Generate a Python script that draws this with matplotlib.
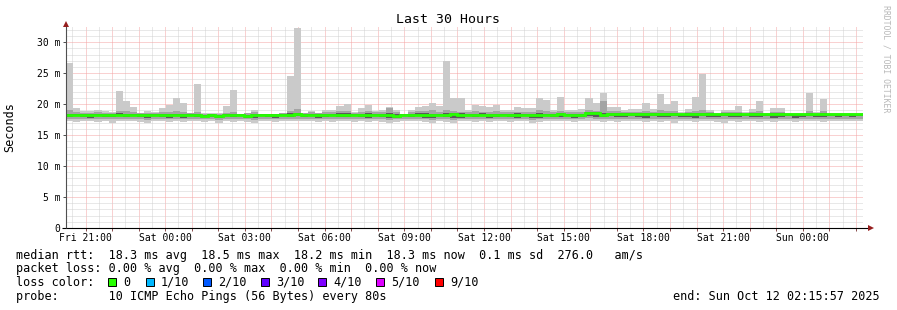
import numpy as np
import pandas as pd
import matplotlib
matplotlib.use('Agg')
import matplotlib.pyplot as plt
import matplotlib.dates as mdates
from matplotlib.ticker import MultipleLocator, FuncFormatter
from matplotlib.patches import Rectangle

plt.rcParams['font.family'] = ['DejaVu Sans Mono', 'DejaVu Sans']

W, H = 897, 310

# ==========================================
# data (16 min bins, 10 pings per bin)
# ==========================================
END_TIME = pd.Timestamp('2025-10-12 02:15:57')
START_TIME = END_TIME - pd.Timedelta(hours=30)

RTT_MAX = [
    26.7, 19.3, 18.9, 18.9, 19.0, 18.9, 18.8, 22.1,
    20.5, 19.5, 18.6, 18.9, 18.7, 19.3, 19.8, 20.9,
    20.2, 18.6, 23.2, 18.5, 18.5, 18.5, 19.7, 22.3,
    18.45, 18.6, 19.0, 18.4, 18.4, 18.4, 18.5, 24.6,
    32.3, 18.6, 18.9, 18.6, 19.0, 19.0, 19.7, 20.0,
    18.8, 19.3, 19.8, 18.9, 19.0, 19.5, 19.0, 18.4,
    19.0, 19.5, 19.7, 20.1, 19.7, 27.0, 20.9, 20.9,
    19.0, 19.9, 19.7, 19.5, 19.8, 19.1, 19.0, 19.5,
    19.3, 19.3, 20.9, 20.6, 19.0, 21.1, 19.0, 19.0,
    19.2, 20.9, 20.2, 21.8, 19.5, 19.5, 19.0, 19.2,
    19.2, 20.2, 19.2, 21.6, 20.0, 20.5, 18.8, 19.2,
    21.1, 24.9, 19.0, 18.5, 19.0, 19.0, 19.7, 18.8,
    19.2, 20.5, 18.5, 19.4, 19.4, 18.5, 18.5, 18.5,
    21.8, 18.8, 20.8, 18.5, 18.5, 18.5, 18.5, 18.5,
]
RTT_P90 = [
    19.0, 18.8, 18.6, 18.6, 18.7, 18.6, 18.6, 18.9,
    18.9, 18.8, 18.5, 18.6, 18.5, 18.7, 18.8, 18.9,
    18.8, 18.5, 18.7, 18.4, 18.4, 18.4, 18.6, 18.8,
    18.4, 18.5, 18.7, 18.4, 18.4, 18.4, 18.5, 18.9,
    19.2, 18.5, 18.7, 18.5, 18.7, 18.7, 18.9, 18.9,
    18.6, 18.8, 18.9, 18.7, 18.7, 19.3, 18.7, 18.4,
    18.7, 18.9, 18.9, 19.0, 18.8, 19.1, 18.9, 18.8,
    18.7, 18.9, 18.8, 18.8, 18.9, 18.8, 18.7, 18.8,
    18.8, 18.8, 19.0, 18.9, 18.7, 18.9, 18.7, 18.7,
    18.8, 19.0, 18.9, 20.5, 18.9, 18.9, 18.7, 18.8,
    18.8, 18.9, 18.8, 19.0, 18.9, 18.9, 18.6, 18.8,
    18.9, 19.0, 18.7, 18.5, 18.7, 18.7, 18.8, 18.6,
    18.8, 18.9, 18.5, 18.8, 18.8, 18.5, 18.5, 18.5,
    18.9, 18.6, 18.9, 18.5, 18.5, 18.5, 18.5, 18.5,
]
RTT_P70 = [
    18.45, 18.45, 18.4, 18.45, 18.45, 18.4, 18.45, 18.5,
    18.45, 18.45, 18.35, 18.4, 18.35, 18.4, 18.4, 18.45,
    18.4, 18.35, 18.4, 18.3, 18.35, 18.3, 18.4, 18.4,
    18.35, 18.3, 18.4, 18.35, 18.35, 18.35, 18.4, 18.5,
    18.55, 18.45, 18.45, 18.4, 18.45, 18.45, 18.5, 18.5,
    18.4, 18.45, 18.5, 18.45, 18.4, 18.6, 18.35, 18.35,
    18.45, 18.5, 18.5, 18.45, 18.45, 18.5, 18.55, 18.5,
    18.45, 18.45, 18.5, 18.45, 18.45, 18.45, 18.45, 18.5,
    18.45, 18.45, 18.5, 18.45, 18.45, 18.55, 18.45, 18.45,
    18.45, 18.7, 18.65, 18.6, 18.5, 18.5, 18.5, 18.5,
    18.5, 18.55, 18.5, 18.55, 18.5, 18.55, 18.45, 18.5,
    18.55, 18.55, 18.5, 18.45, 18.5, 18.5, 18.55, 18.45,
    18.5, 18.55, 18.45, 18.5, 18.5, 18.45, 18.45, 18.45,
    18.55, 18.45, 18.55, 18.45, 18.45, 18.45, 18.45, 18.45,
]
RTT_MEDIAN = [
    18.3, 18.3, 18.3, 18.3, 18.3, 18.3, 18.3, 18.3,
    18.3, 18.3, 18.2, 18.2, 18.2, 18.2, 18.2, 18.2,
    18.2, 18.2, 18.2, 18.15, 18.2, 18.15, 18.2, 18.2,
    18.2, 18.15, 18.2, 18.2, 18.2, 18.2, 18.2, 18.3,
    18.35, 18.3, 18.3, 18.25, 18.3, 18.3, 18.3, 18.3,
    18.25, 18.3, 18.3, 18.3, 18.25, 18.3, 18.15, 18.25,
    18.3, 18.3, 18.3, 18.25, 18.3, 18.3, 18.35, 18.3,
    18.3, 18.25, 18.3, 18.3, 18.25, 18.3, 18.3, 18.3,
    18.25, 18.3, 18.3, 18.25, 18.3, 18.35, 18.3, 18.3,
    18.3, 18.5, 18.5, 18.25, 18.35, 18.35, 18.35, 18.35,
    18.35, 18.35, 18.35, 18.35, 18.35, 18.35, 18.35, 18.35,
    18.35, 18.35, 18.35, 18.35, 18.35, 18.35, 18.35, 18.35,
    18.35, 18.35, 18.35, 18.35, 18.35, 18.35, 18.35, 18.35,
    18.35, 18.35, 18.35, 18.35, 18.35, 18.35, 18.35, 18.35,
]
RTT_P30 = [
    17.9, 18.05, 17.9, 17.8, 18.05, 17.95, 17.9, 18.05,
    17.9, 18.05, 17.85, 17.8, 18.05, 17.9, 17.8, 18.05,
    17.8, 18.05, 17.85, 18.05, 17.9, 17.8, 18.05, 17.85,
    18.05, 17.8, 17.75, 18.05, 17.9, 17.8, 18.05, 17.9,
    18.05, 17.85, 18.05, 17.8, 17.9, 18.05, 17.9, 17.9,
    18.05, 17.9, 17.8, 18.05, 17.85, 17.75, 17.8, 18.05,
    17.85, 18.05, 17.8, 17.75, 18.05, 17.85, 17.75, 17.8,
    18.05, 17.85, 18.05, 17.8, 17.85, 18.05, 17.85, 17.8,
    18.05, 17.75, 17.8, 18.05, 17.9, 17.85, 18.05, 17.8,
    17.85, 18.05, 17.95, 17.85, 18.05, 17.85, 17.9, 18.05,
    17.9, 17.8, 18.05, 17.85, 17.9, 18.05, 17.95, 17.85,
    17.8, 18.05, 17.95, 17.85, 18.05, 17.9, 17.85, 18.05,
    17.9, 17.85, 18.05, 17.8, 17.9, 18.05, 17.8, 17.95,
    18.05, 17.95, 17.85, 18.05, 17.95, 18.05, 17.95, 18.05,
]
RTT_P10 = [
    17.6, 17.55, 17.65, 17.55, 17.6, 17.65, 17.55, 17.6,
    17.65, 17.6, 17.55, 17.5, 17.6, 17.65, 17.55, 17.6,
    17.55, 17.65, 17.6, 17.55, 17.6, 17.5, 17.65, 17.55,
    17.6, 17.55, 17.45, 17.55, 17.65, 17.55, 17.6, 17.65,
    17.65, 17.55, 17.65, 17.55, 17.6, 17.55, 17.65, 17.6,
    17.55, 17.65, 17.55, 17.6, 17.55, 17.5, 17.55, 17.65,
    17.6, 17.65, 17.55, 17.5, 17.6, 17.55, 17.5, 17.55,
    17.65, 17.55, 17.6, 17.55, 17.6, 17.65, 17.55, 17.55,
    17.6, 17.5, 17.55, 17.55, 17.65, 17.6, 17.65, 17.55,
    17.55, 17.7, 17.65, 17.55, 17.6, 17.55, 17.65, 17.6,
    17.65, 17.55, 17.6, 17.55, 17.65, 17.55, 17.65, 17.6,
    17.55, 17.6, 17.65, 17.55, 17.55, 17.6, 17.55, 17.65,
    17.6, 17.55, 17.65, 17.55, 17.6, 17.65, 17.55, 17.65,
    17.6, 17.65, 17.55, 17.65, 17.65, 17.65, 17.65, 17.65,
]
RTT_MIN = [
    17.2, 17.1, 17.3, 17.2, 17.1, 17.3, 17.0, 17.2,
    17.3, 17.2, 17.1, 17.0, 17.2, 17.3, 17.1, 17.2,
    17.1, 17.3, 17.2, 17.1, 17.2, 16.9, 17.3, 17.1,
    17.2, 17.1, 17.0, 17.2, 17.3, 17.1, 17.2, 17.3,
    17.3, 17.2, 17.3, 17.1, 17.2, 17.1, 17.3, 17.2,
    17.1, 17.3, 17.1, 17.2, 17.1, 17.0, 17.1, 17.3,
    17.2, 17.3, 17.1, 17.0, 17.2, 17.1, 17.0, 17.2,
    17.3, 17.1, 17.2, 17.1, 17.2, 17.3, 17.1, 17.2,
    17.2, 17.0, 17.1, 17.2, 17.3, 17.2, 17.3, 17.1,
    17.2, 17.3, 17.3, 17.1, 17.2, 17.1, 17.3, 17.2,
    17.3, 17.1, 17.2, 17.1, 17.3, 17.0, 17.3, 17.2,
    17.1, 17.2, 17.3, 17.1, 17.0, 17.2, 17.1, 17.3,
    17.2, 17.1, 17.3, 17.1, 17.2, 17.3, 17.1, 17.3,
    17.2, 17.3, 17.1, 17.3, 17.3, 17.3, 17.3, 17.3,
]

LOSS_LABELS = ['0', '1/10', '2/10', '3/10', '4/10', '5/10', '9/10']
LOSS_COLORS = ['#26ff00', '#00b8ff', '#0059ff', '#5e00ff', '#7e00ff', '#dd00ff', '#ff0000']

TITLE = 'Last 30 Hours'
Y_LABEL = 'Seconds'
LINE_RTT = 'median rtt:  18.3 ms avg  18.5 ms max  18.2 ms min  18.3 ms now  0.1 ms sd  276.0   am/s'
LINE_LOSS = 'packet loss: 0.00 % avg  0.00 % max  0.00 % min  0.00 % now'
LINE_PROBE = 'probe:       10 ICMP Echo Pings (56 Bytes) every 80s'
WATERMARK = 'RRDTOOL / TOBI OETIKER'


def px(x, y):
    """pixel coords (top-left origin) -> figure fraction"""
    return x / W, 1 - y / H


fig = plt.figure(figsize=(W / 100, H / 100), dpi=100)
ax_l, ax_r, ax_t, ax_b = 66, 863, 26, 228
ax = fig.add_axes([ax_l / W, 1 - ax_b / H, (ax_r - ax_l) / W, (ax_b - ax_t) / H])

x0 = mdates.date2num(START_TIME.to_pydatetime())
x1 = mdates.date2num(END_TIME.to_pydatetime())
edges = np.linspace(x0, x1, len(RTT_MAX) + 1)

# smoke: outer -> inner, darker toward the median
ax.stairs(RTT_MAX, edges, baseline=RTT_MIN, fill=True, color='#cacaca', lw=0, zorder=1)
ax.stairs(RTT_P90, edges, baseline=RTT_P10, fill=True, color='#a4a4a4', lw=0, zorder=1.1)
ax.stairs(RTT_P70, edges, baseline=RTT_P30, fill=True, color='#5a5a5a', lw=0, zorder=1.2)
ax.stairs(RTT_MEDIAN, edges, baseline=None, color=LOSS_COLORS[0], lw=2.0, zorder=4)

ax.set_xlim(x0, x1)
ax.set_ylim(0, 32.6)
ax.xaxis_date()

ax.xaxis.set_major_locator(mdates.HourLocator())
ax.xaxis.set_minor_locator(mdates.MinuteLocator(byminute=[30]))


def fmt_time(v, pos):
    d = mdates.num2date(v)
    return d.strftime('%a %H:%M') if d.hour % 3 == 0 else ''


ax.xaxis.set_major_formatter(FuncFormatter(fmt_time))
ax.yaxis.set_major_locator(MultipleLocator(5))
ax.yaxis.set_minor_locator(MultipleLocator(1))
ax.yaxis.set_major_formatter(FuncFormatter(lambda v, p: '0' if v == 0 else f'{v:g} m'))

# dotted grid behind the smoke
ax.set_axisbelow(True)
ax.grid(which='major', color='#f4a4a4', linestyle=(0, (1, 1)), lw=0.72)
ax.grid(which='minor', color='#d2d2d2', linestyle=(0, (1, 1)), lw=0.72)

ax.tick_params(axis='x', which='major', direction='out', length=2.2, width=0.72,
               color='#8a5050', labelsize=7, pad=1.5)
ax.tick_params(axis='y', which='major', direction='out', length=2.2, width=0.72,
               color='#505050', labelsize=7, pad=2)
ax.tick_params(which='minor', length=0)

for s in ax.spines.values():
    s.set_visible(False)

# axis lines with arrow heads
aw, ah = ax_r - ax_l, ax_b - ax_t
arrow_c = '#961e1e'
ax.plot([(62 - ax_l) / aw, (869 - ax_l) / aw], [0, 0], color='black', lw=0.8,
        transform=ax.transAxes, clip_on=False, zorder=5, solid_capstyle='butt')
ax.plot([0, 0], [0, (ax_b - 24) / ah], color='#505050', lw=0.8,
        transform=ax.transAxes, clip_on=False, zorder=5, solid_capstyle='butt')
ax.plot([(871 - ax_l) / aw], [0], marker='>', ms=4, color=arrow_c, mew=0,
        transform=ax.transAxes, clip_on=False, zorder=6)
ax.plot([0], [(ax_b - 23.5) / ah], marker='^', ms=4, color=arrow_c, mew=0,
        transform=ax.transAxes, clip_on=False, zorder=6)

# texts
fig.text(*px(448, 19.5), TITLE, ha='center', va='center', fontsize=9.5)
fig.text(*px(10, 127), Y_LABEL, rotation=90, ha='center', va='center', fontsize=8.5)
fig.text(*px(886, 59), WATERMARK, rotation=270, ha='center', va='center',
         fontsize=5.9, color='#b8b8b8')

fs = 8.5
fig.text(*px(16, 258.5), LINE_RTT, va='baseline', fontsize=fs)
fig.text(*px(16, 272.2), LINE_LOSS, va='baseline', fontsize=fs)
fig.text(*px(16, 285.9), 'loss color:', va='baseline', fontsize=fs)
fig.text(*px(16, 299.6), LINE_PROBE, va='baseline', fontsize=fs)
fig.text(*px(880, 299.6), END_TIME.strftime('end: %a %b %d %H:%M:%S %Y'),
         ha='right', va='baseline', fontsize=fs)

box_x = [108, 146, 203, 261, 318, 376, 435]
for bx, lab, col in zip(box_x, LOSS_LABELS, LOSS_COLORS):
    fig.patches.append(Rectangle(px(bx, 286), 8 / W, 8 / H, transform=fig.transFigure,
                                 facecolor=col, edgecolor='black', lw=0.7))
    fig.text(*px(bx + 15, 285.9), lab, va='baseline', fontsize=fs)

fig.savefig('out.png', dpi=100)
